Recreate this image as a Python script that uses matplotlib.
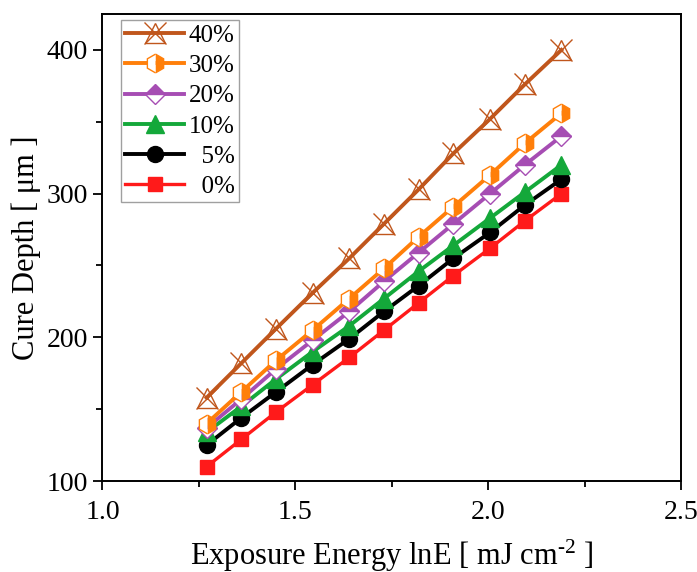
import matplotlib
matplotlib.use("Agg")
import matplotlib.pyplot as plt
from matplotlib.ticker import MultipleLocator
from matplotlib.legend_handler import HandlerTuple

plt.rcParams['font.family'] = ['Liberation Serif', 'DejaVu Serif']
plt.rcParams['mathtext.fontset'] = 'custom'
plt.rcParams['mathtext.rm'] = 'Liberation Serif'
plt.rcParams['mathtext.it'] = 'Liberation Serif:italic'

lnE = [1.27, 1.36, 1.45, 1.545, 1.64, 1.73, 1.82, 1.91, 2.005, 2.095, 2.19]
depth_0 = [110, 129, 148, 167, 186, 205, 224, 243, 262, 281, 300]
depth_5 = [125, 144, 162, 181, 199, 218, 236, 255, 273, 292, 310]
depth_10 = [134, 152, 171, 190, 208, 227, 246, 264, 283, 301, 320]
depth_20 = [137, 157, 178, 198, 218, 239, 259, 279, 300, 320, 340]
depth_30 = [140, 162, 184, 205, 227, 248, 270, 291, 313, 335, 356]
depth_40 = [158, 182, 206, 231, 255, 279, 303, 328, 352, 376, 400]
labels = ['40%', '30%', '20%', '10%', '  5%', '  0%']

fig = plt.figure(figsize=(6.97, 5.72), dpi=100)
ax = fig.add_axes([0.147, 0.159, 0.830, 0.8165])

h0, = ax.plot(lnE, depth_0, color='#FF1A1A', lw=2.4, marker='s', ms=10.5, mec='#FF1A1A', mfc='#FF1A1A', zorder=3)
h5, = ax.plot(lnE, depth_5, color='black', lw=2.8, marker='o', ms=11.5, mfc='black', zorder=3)
h10, = ax.plot(lnE, depth_10, color='#14A83A', lw=2.8, marker='^', ms=12.5, mfc='#14A83A', mec='#14A83A', zorder=3)
h20, = ax.plot(lnE, depth_20, color='#A64DB3', lw=2.8, marker='D', ms=10.5, mfc='#A64DB3', mec='#A64DB3',
               fillstyle='top', markerfacecoloralt='white', mew=1.0, zorder=3)
h30, = ax.plot(lnE, depth_30, color='#FF7F0A', lw=2.8, marker='h', ms=13.5, mfc='#FF7F0A', mec='#FF7F0A',
               fillstyle='right', markerfacecoloralt='white', mew=1.0, zorder=3)
h40a, = ax.plot(lnE, depth_40, color='#C0561C', lw=2.8, marker='^', ms=14.5, mfc='none', mec='#C0561C', mew=1.0, zorder=3)
h40b, = ax.plot(lnE, depth_40, color='#C0561C', lw=0, marker='x', ms=15.5, mec='#C0561C', mew=1.0, zorder=3)

ax.set_xlim(1.0, 2.5)
ax.set_ylim(100, 425)
ax.xaxis.set_major_locator(MultipleLocator(0.5))
ax.xaxis.set_minor_locator(MultipleLocator(0.25))
ax.yaxis.set_major_locator(MultipleLocator(100))
ax.yaxis.set_minor_locator(MultipleLocator(50))
ax.tick_params(which='both', direction='out', top=False, right=False, width=1.3, labelsize=20)
ax.tick_params(which='major', length=6.5)
ax.tick_params(which='minor', length=4.5)
ax.tick_params(axis='x', which='major', pad=7)
ax.tick_params(axis='y', which='major', pad=4)
for s in ax.spines.values():
    s.set_linewidth(1.4)

ax.set_xlabel(r'Exposure Energy lnE [ mJ cm$^{\text{-2}}$ ]', fontsize=22, labelpad=9)
ax.set_ylabel('Cure Depth [ μm ]', fontsize=22, labelpad=4)

leg = ax.legend([(h40a, h40b), h30, h20, h10, h5, h0], labels,
                handler_map={tuple: HandlerTuple(ndivide=1)},
                loc='upper left', bbox_to_anchor=(0.032, 0.987), borderaxespad=0,
                fontsize=18, handlelength=2.35, labelspacing=0.31, handletextpad=0.2,
                borderpad=0.17, fancybox=False, edgecolor='#A0A0A0', framealpha=1)
leg.get_frame().set_linewidth(1.0)

fig.savefig('out.png', dpi=100)
